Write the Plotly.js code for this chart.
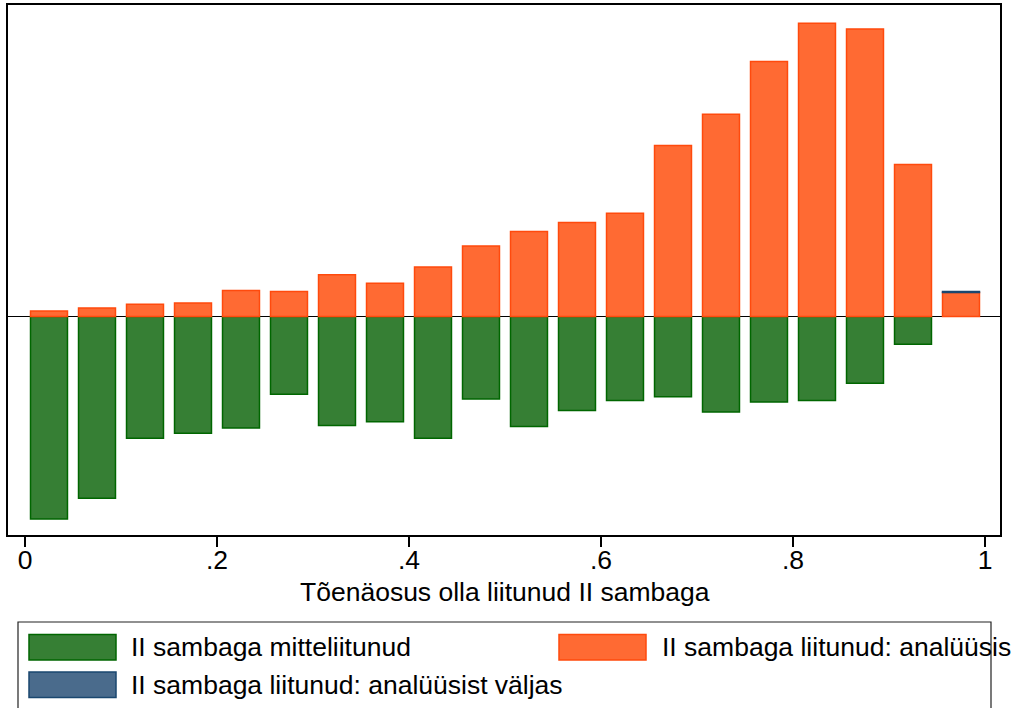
<!DOCTYPE html>
<html>
<head>
<meta charset="utf-8">
<script src="https://cdn.plot.ly/plotly-3.0.1.min.js"></script>
<style>html,body{margin:0;padding:0;background:#fff;}#chart{width:1011px;height:708px;}</style>
</head>
<body>
<div id="chart"></div>
<script>
// Bin centres (probability of joining pillar II)
const binCenters = [0.025,0.075,0.125,0.175,0.225,0.275,0.325,0.375,0.425,0.475,0.525,0.575,0.625,0.675,0.725,0.775,0.825,0.875,0.925,0.975];
// Not joined (drawn downward)
const notJoined = [-202.5,-181.8,-121.8,-116.8,-111.5,-77.9,-109.0,-105.4,-121.8,-82.5,-110.0,-94.0,-84.0,-80.4,-95.7,-85.7,-84.0,-66.8,-27.9,null];
// Joined, in analysis
const joinedIn = [5.3,8.5,12.1,13.5,26.0,25.0,41.6,33.2,49.3,70.3,85.0,93.9,103.2,171.0,202.1,255.0,293.2,287.5,151.8,24.0];
// Joined, outside analysis
const joinedOut = [null,null,null,null,null,null,null,null,null,null,null,null,null,null,null,null,null,null,null,0.8];
const tickVals = [0,0.2,0.4,0.6,0.8,1];
const tickText = ["0",".2",".4",".6",".8","1"];
const xTitle = "Tõenäosus olla liitunud II sambaga";
const seriesNames = ["II sambaga mitteliitunud","II sambaga liitunud: analüüsis","II sambaga liitunud: analüüsist väljas"];

const FONT = "Liberation Sans, Arial, Helvetica, sans-serif";
const FS = 26.5;
const cols = [
  {fill:"#367f34", line:"#006600"},
  {fill:"#ff6a33", line:"#ff4a0d"},
  {fill:"#4a6b8c", line:"#1a476f"}
];
const BW = 0.0385;
const traces = [notJoined, joinedIn, joinedOut].map((ys,i)=>({
  type:"bar", x:binCenters, y:ys, width:BW, name:seriesNames[i],
  marker:{color:cols[i].fill, line:{color:cols[i].line, width:1.5}},
  hoverinfo:"x+y"
}));

// plot area in px: x 8..1000, y 5..535
const L=8, R=1000, T=5, B=535;
const px = x => (x-L)/(R-L);
const py = y => (B-y)/(B-T);
const shapes = [
  {type:"rect", xref:"paper", yref:"paper", x0:px(18), x1:px(991), y0:py(622), y1:py(760), line:{color:"#222", width:1.2}, fillcolor:"rgba(0,0,0,0)"},
  {type:"rect", xref:"paper", yref:"paper", x0:px(29), x1:px(116), y0:py(634.5), y1:py(660), line:{color:cols[0].line, width:1.5}, fillcolor:cols[0].fill},
  {type:"rect", xref:"paper", yref:"paper", x0:px(559), x1:px(646), y0:py(634.5), y1:py(660), line:{color:cols[1].line, width:1.5}, fillcolor:cols[1].fill},
  {type:"rect", xref:"paper", yref:"paper", x0:px(29), x1:px(116), y0:py(672), y1:py(697.5), line:{color:cols[2].line, width:1.5}, fillcolor:cols[2].fill}
];
const ann = (x,y,t,anchor)=>({xref:"paper", yref:"paper", x:px(x), y:py(y), xanchor:anchor||"left", yanchor:"middle", text:t, showarrow:false, font:{family:FONT, size:FS, color:"#000"}});
const annotations = [
  ann(505,591.5,xTitle,"center"),
  ann(129,647,seriesNames[0]), ann(660,647,seriesNames[1]), ann(129,685,seriesNames[2])
];

const layout = {
  width:1011, height:708,
  margin:{l:L, r:1011-R, t:T, b:708-B, pad:0},
  paper_bgcolor:"#fff", plot_bgcolor:"#fff",
  showlegend:false,
  barmode:"relative",
  font:{family:FONT, size:FS, color:"#000"},
  xaxis:{
    range:[(L-25)/960, (R-25)/960],
    tickvals:tickVals, ticktext:tickText,
    ticks:"outside", ticklen:10, tickwidth:1.5, tickcolor:"#000",
    ticklabelstandoff:-10,
    showgrid:false, zeroline:false,
    showline:true, linecolor:"#000", linewidth:2, mirror:true,
    tickfont:{family:FONT, size:FS, color:"#000"}
  },
  yaxis:{
    range:[-(B-316.4), 316.4-T],
    showticklabels:false, ticks:"", showgrid:false,
    zeroline:true, zerolinecolor:"#000", zerolinewidth:1.2,
    showline:true, linecolor:"#000", linewidth:2, mirror:true
  },
  shapes:shapes, annotations:annotations
};
Plotly.newPlot("chart", traces, layout, {displayModeBar:false, staticPlot:true});
</script>
</body>
</html>
